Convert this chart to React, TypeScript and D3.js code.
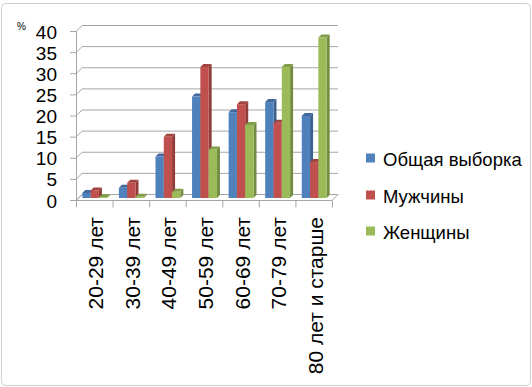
import { useEffect, useRef } from 'react';
import * as d3 from 'd3';

const categories = ['20-29 лет', '30-39 лет', '40-49 лет', '50-59 лет', '60-69 лет', '70-79 лет', '80 лет и старше'];
const seriesNames = ['Общая выборка', 'Мужчины', 'Женщины'];
const totalValues = [1.2, 2.4, 9.8, 24, 20.3, 22.7, 19.4];
const menValues = [1.8, 3.6, 14.5, 31, 22.2, 17.8, 8.5];
const womenValues = [0.2, 0.3, 1.5, 11.5, 17.3, 31, 38];
const yTicks = [0, 5, 10, 15, 20, 25, 30, 35, 40];

const colors = ['#4F81BD', '#C0504D', '#9BBB59'];
const sideColors = ['#3A6291', '#923C3A', '#738C40'];
const topColors = ['#42699B', '#A1433F', '#819D49'];

export default function App() {
  const svgRef = useRef<SVGSVGElement>(null);

  useEffect(() => {
    if (!svgRef.current) return;
    const width = 532;
    const height = 387;
    const svg = d3.select(svgRef.current);
    svg.selectAll('*').remove();
    svg.attr('width', width).attr('height', height);

    const font = '"Liberation Sans", Arial, sans-serif';
    const grid = '#A6A6A6';
    const depth = 6; // wall depth (px, up-right)

    const x = d3.scaleBand<string>().domain(categories).range([76, 332]);
    const y = d3.scaleLinear().domain([0, 40]).range([200, 31]);

    // outer frame
    svg.append('rect')
      .attr('x', 1.5).attr('y', 3.5)
      .attr('width', 529).attr('height', 382)
      .attr('rx', 4)
      .style('fill', '#fff')
      .style('stroke', '#D0D0D0');

    const g = svg.append('g');

    // back wall gridlines + side wall diagonals + ticks
    yTicks.forEach(t => {
      const yf = y(t);
      g.append('line')
        .attr('x1', 82).attr('x2', 338)
        .attr('y1', yf - depth + 0.5).attr('y2', yf - depth + 0.5)
        .style('stroke', grid);
      g.append('line')
        .attr('x1', 76).attr('y1', yf + 0.5)
        .attr('x2', 82).attr('y2', yf - depth + 0.5)
        .style('stroke', grid);
      g.append('line')
        .attr('x1', 70).attr('x2', 76)
        .attr('y1', yf + 0.5).attr('y2', yf + 0.5)
        .style('stroke', grid);
      g.append('text')
        .attr('x', 57).attr('y', yf + 1)
        .attr('text-anchor', 'end')
        .attr('dominant-baseline', 'central')
        .style('font-family', font)
        .style('font-size', '19px')
        .style('fill', '#000')
        .text(t);
    });

    // front vertical axis
    g.append('line')
      .attr('x1', 76.5).attr('x2', 76.5)
      .attr('y1', y(40)).attr('y2', y(0))
      .style('stroke', grid);

    // floor
    const y0 = y(0) + 0.5;
    g.append('path')
      .attr('d', `M76,${y0} L332,${y0} L338,${y0 - depth} L82,${y0 - depth} Z`)
      .style('fill', 'none')
      .style('stroke', grid);

    // category ticks
    const edges = categories.map(c => x(c) as number).concat([x.range()[1]]);
    edges.forEach(e => {
      g.append('line')
        .attr('x1', e + 0.5).attr('x2', e + 0.5)
        .attr('y1', y0).attr('y2', y0 + 7)
        .style('stroke', grid);
    });

    // bars
    const series = [totalValues, menValues, womenValues];
    const bw = 8.3;
    const sd = 3; // bar depth
    const off = 2; // bar front offset into the depth
    const pad = (x.bandwidth() - (3 * bw + sd)) / 2;

    categories.forEach((c, ci) => {
      series.forEach((vals, si) => {
        const v = vals[ci];
        const left = (x(c) as number) + off + pad + si * bw;
        const right = left + bw;
        const bottom = y(0) - off;
        const top = y(v) - off;
        const bar = g.append('g');
        bar.append('path')
          .attr('d', `M${right},${bottom} L${right + sd},${bottom - sd} L${right + sd},${top - sd} L${right},${top} Z`)
          .style('fill', sideColors[si]);
        bar.append('path')
          .attr('d', `M${left},${top} L${right},${top} L${right + sd},${top - sd} L${left + sd},${top - sd} Z`)
          .style('fill', topColors[si]);
        bar.append('rect')
          .attr('x', left).attr('y', top)
          .attr('width', bw).attr('height', Math.max(0, bottom - top))
          .style('fill', colors[si]);
      });
    });

    // category labels
    categories.forEach(c => {
      const cx = (x(c) as number) + x.bandwidth() / 2 + 1.5;
      g.append('text')
        .attr('transform', `translate(${cx},217) rotate(-90)`)
        .attr('text-anchor', 'end')
        .attr('dominant-baseline', 'central')
        .style('font-family', font)
        .style('font-size', '21px')
        .style('fill', '#000')
        .text(c);
    });

    // unit label
    g.append('text')
      .attr('x', 17).attr('y', 30)
      .style('font-family', font)
      .style('font-size', '10px')
      .style('fill', '#000')
      .text('%');

    // legend
    const legendY = [158, 195, 231];
    seriesNames.forEach((name, i) => {
      g.append('rect')
        .attr('x', 366).attr('y', legendY[i] - 4.5)
        .attr('width', 9).attr('height', 9)
        .style('fill', colors[i]);
      g.append('text')
        .attr('x', 383).attr('y', legendY[i] + 1)
        .attr('dominant-baseline', 'central')
        .style('font-family', font)
        .style('font-size', '18.5px')
        .style('fill', '#000')
        .text(name);
    });
  }, []);

  return (
    <div style={{ position: 'absolute', left: 0, top: 0 }}>
      <svg ref={svgRef} style={{ display: 'block' }} />
    </div>
  );
}
